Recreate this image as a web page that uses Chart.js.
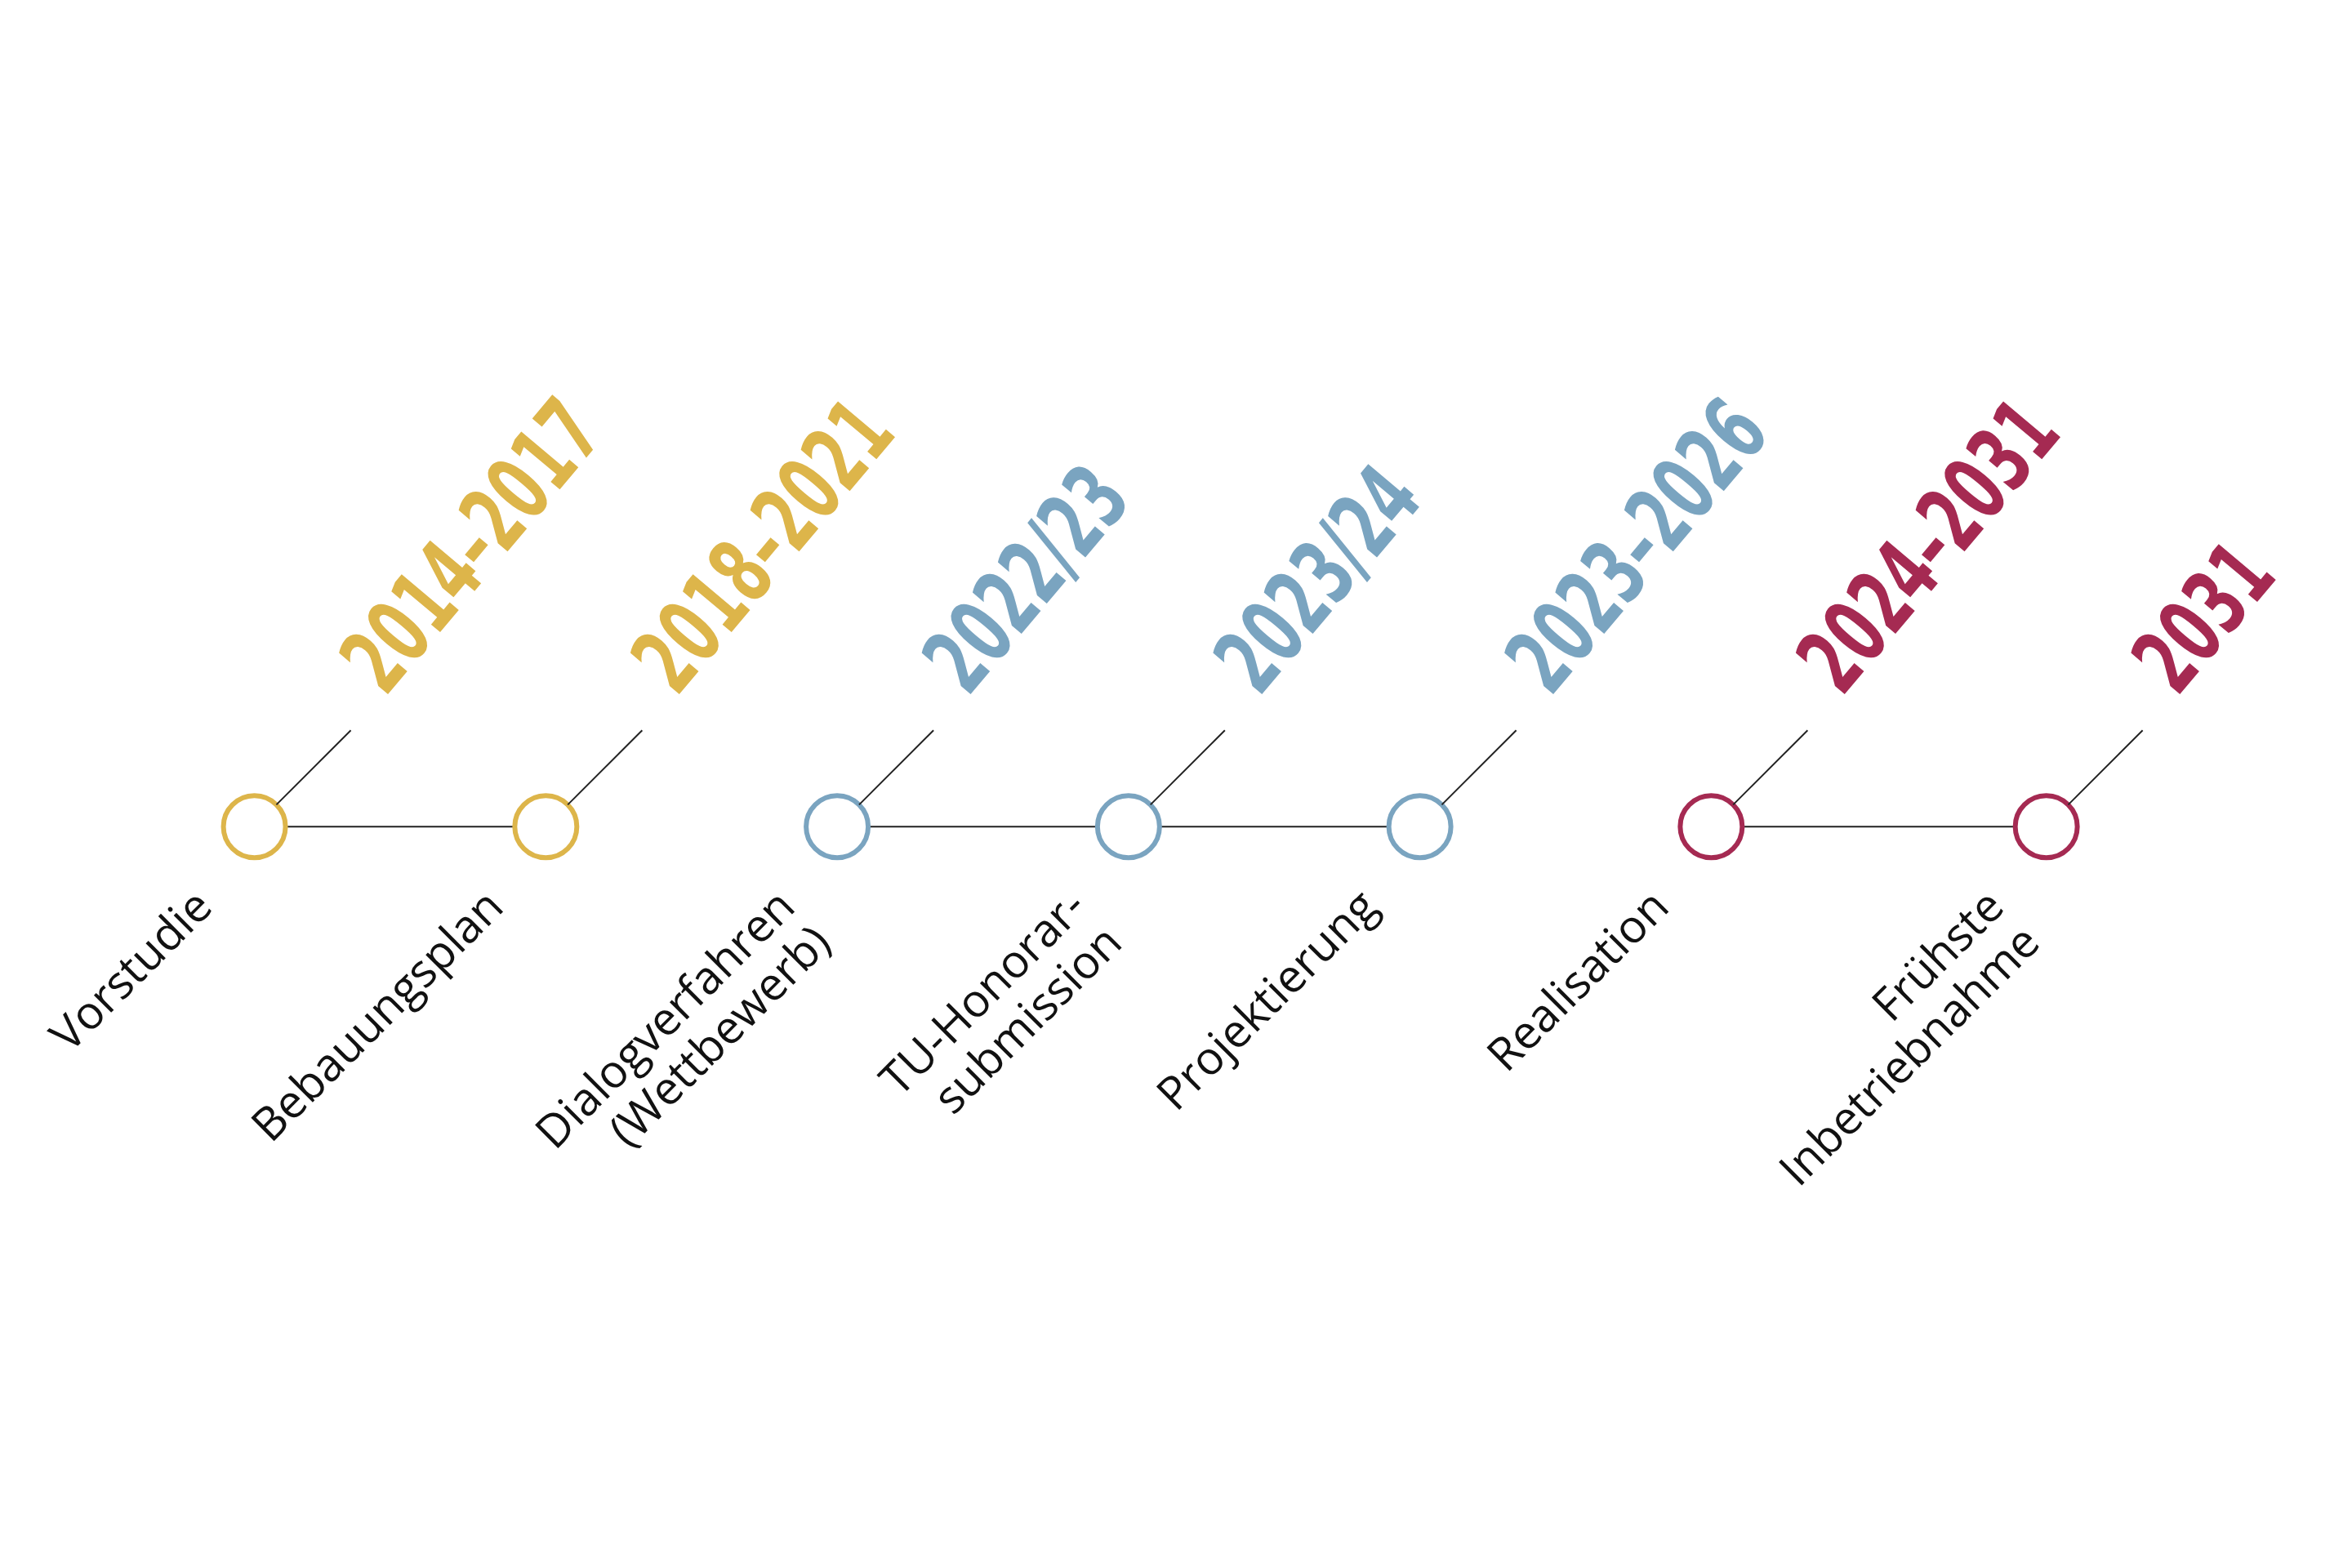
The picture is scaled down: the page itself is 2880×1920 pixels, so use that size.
<!DOCTYPE html>
<html><head><meta charset="utf-8">
<script src="https://cdn.jsdelivr.net/npm/chart.js@4/dist/chart.umd.min.js"></script>
<style>html,body{margin:0;padding:0;background:#fff}#wrap{width:2880px;height:1920px}</style>
</head><body><div id="wrap"><canvas id="c"></canvas></div>
<script>
const stages = ["Vorstudie","Bebauungsplan","Dialogverfahren\n(Wettbewerb)","TU-Honorar-\nsubmission","Projektierung","Realisation","Frühste\nInbetriebnahme"];
const periods = ["2014–2017","2018–2021","2022/23","2023/24","2023–2026","2024–2031","2031"];
const positions = [1,2,3,4,5,6,7.15];
const groups = [0,0,1,1,1,2,2];
const groupColors = ["#DDB54A","#7AA4C0","#A52A52"];

const lineSets = [0,1,2].map(g=>({
  type:'line',
  data: positions.map((x,i)=>groups[i]===g?{x:x,y:0}:null).filter(Boolean),
  borderColor:'#222', borderWidth:2, pointRadius:0, order:2, fill:false
}));
const pointSet = {
  type:'scatter',
  data: positions.map(x=>({x:x,y:0})),
  pointRadius:38, pointHoverRadius:38, borderWidth:6,
  pointBorderColor: groups.map(g=>groupColors[g]),
  pointBackgroundColor:'#fff', order:1
};

const labelPlugin = {
  id:'labels',
  afterDatasetsDraw(chart){
    const ctx = chart.ctx, xs = chart.scales.x, ys = chart.scales.y;
    positions.forEach((v,i)=>{
      const px = xs.getPixelForValue(v), py = ys.getPixelForValue(0);
      const r = 38, c = Math.SQRT1_2;
      ctx.save();
      ctx.strokeStyle='#222'; ctx.lineWidth=2;
      ctx.beginPath(); ctx.moveTo(px+r*c, py-r*c); ctx.lineTo(px+118, py-118); ctx.stroke();
      // period label
      ctx.translate(px+160, py-158);
      ctx.rotate(-50*Math.PI/180);
      ctx.scale(0.62,1);
      ctx.fillStyle = groupColors[groups[i]];
      ctx.font = 'bold 112px "DejaVu Sans", sans-serif';
      ctx.textAlign='left'; ctx.textBaseline='alphabetic';
      ctx.fillText(periods[i],0,0);
      ctx.restore();
      // stage label
      ctx.save();
      ctx.translate(px-80, py+70);
      ctx.rotate(-45*Math.PI/180);
      ctx.fillStyle='#111';
      ctx.font = '56px "Open Sans", "Noto Sans", sans-serif';
      ctx.textAlign='right'; ctx.textBaseline='top';
      const lines = stages[i].split('\n');
      lines.forEach((t,k)=>{
        ctx.fillText(t, 0, k*62);
      });
      ctx.restore();
    });
  }
};

new Chart(document.getElementById('c'),{
  data:{datasets:[...lineSets, pointSet]},
  options:{
    responsive:true, maintainAspectRatio:false, animation:false,
    layout:{padding:0},
    plugins:{legend:{display:false},tooltip:{enabled:false}},
    scales:{
      x:{type:'linear',min:0.25,max:8.076,display:false},
      y:{type:'linear',min:-0.943,max:1.057,display:false}
    }
  },
  plugins:[labelPlugin]
});
</script></body></html>
